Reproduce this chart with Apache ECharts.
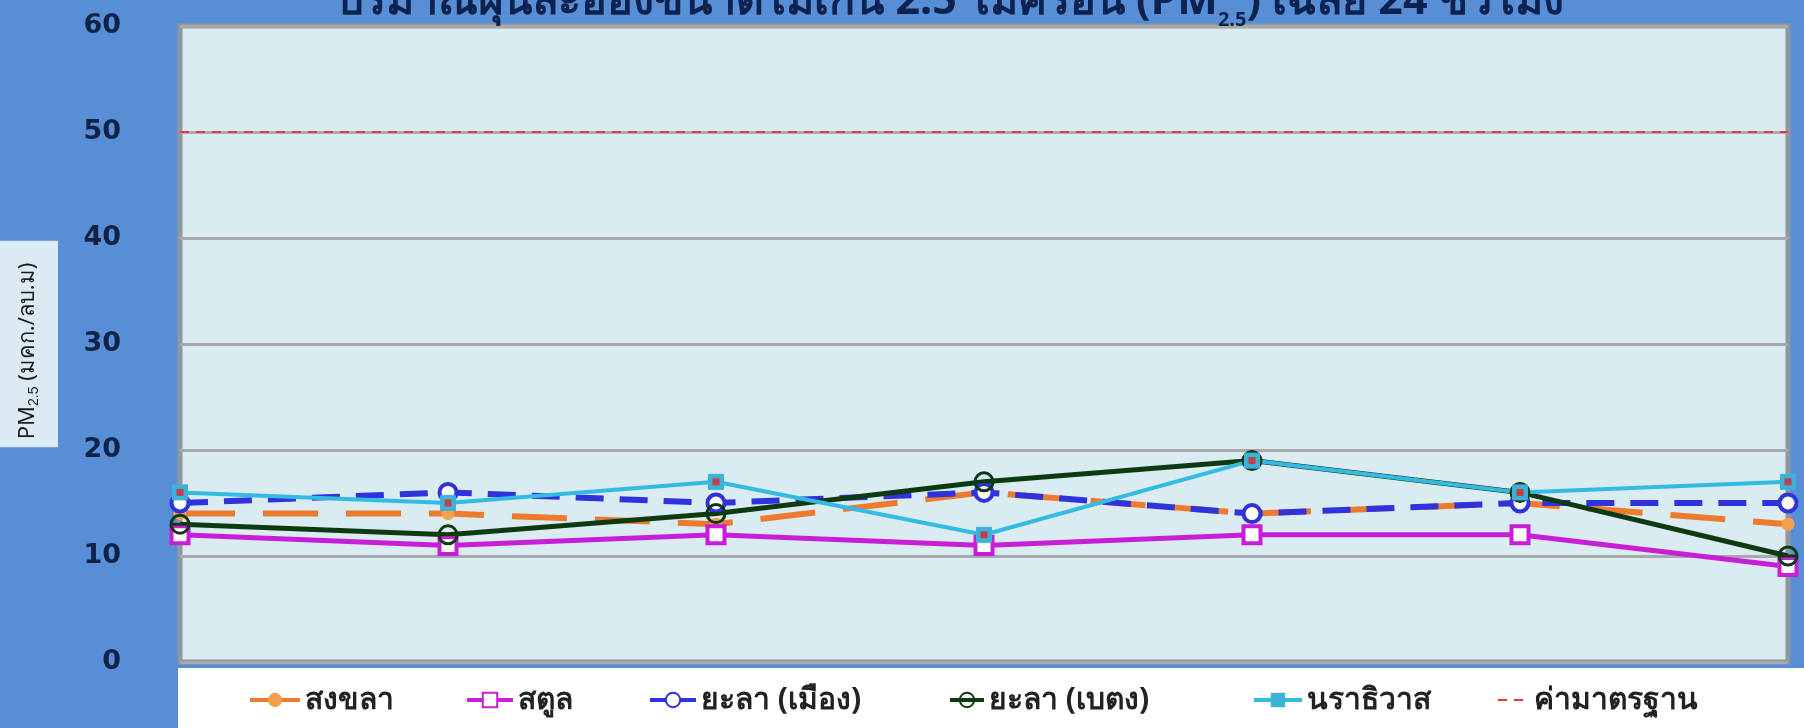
<!DOCTYPE html>
<html><head><meta charset="utf-8">
<script src="https://cdn.jsdelivr.net/npm/echarts@6/dist/echarts.min.js"></script>
<style>html,body{margin:0;padding:0;background:#578ED6}#c{width:1804px;height:728px}</style>
</head><body><div id="c"></div>
<script>
const categories = ['1','2','3','4','5','6','7'];
const songkhla   = [14, 14, 13, 16, 14, 15, 13];
const satun      = [12, 11, 12, 11, 12, 12, 9];
const yalaCity   = [15, 16, 15, 16, 14, 15, 15];
const yalaBetong = [13, 12, 14, 17, 19, 16, 10];
const narathiwat = [16, 15, 17, 12, 19, 16, 17];
const standard   = [50, 50, 50, 50, 50, 50, 50];
const yTicks = {min: 0, max: 60, interval: 10};
const names = ['สงขลา','สตูล','ยะลา (เมือง)','ยะลา (เบตง)','นราธิวาส','ค่ามาตรฐาน'];

const ringBar = 'path://M0,10A10,10 0 1,1 20,10A10,10 0 1,1 0,10Z M0,10L20,10';
const thaiFont = 'Tahoma, Noto Sans, DejaVu Sans, sans-serif';
const legendPos = [[248, 50], [465, 46], [648, 46], [948, 34], [1252, 48], [1497, 31]];
const legends = names.map((n, i) => ({
  data: [i === 5 ? {name: n, itemStyle: {opacity: 0}} : {name: n, lineStyle: {type: 'solid', width: 4}}],
  left: legendPos[i][0], top: 685, itemWidth: legendPos[i][1], itemHeight: 18, padding: 0,
  textStyle: {fontSize: 30, fontWeight: 'bold', color: '#222222', fontFamily: thaiFont}
}));

const chart = echarts.init(document.getElementById('c'), null, {renderer:'canvas'});
chart.setOption({
  backgroundColor: '#578ED6',
  animation: false,
  title: {
    text: '{t|ปริมาณฝุ่นละอองขนาดไม่เกิน 2.5 ไมครอน (PM}{s|2.5}{t|) เฉลี่ย 24 ชั่วโมง}',
    left: 950, top: -26, textAlign: 'center', padding: 0,
    textStyle: {
      rich: {
        t: {fontSize: 43, fontWeight: 'bold', color: '#0E2250', fontFamily: thaiFont},
        s: {fontSize: 20, fontWeight: 'bold', color: '#0E2250', verticalAlign: 'bottom', padding: [36,0,0,0], fontFamily: thaiFont}
      }
    }
  },
  graphic: [
    {type: 'rect', left: 178, top: 668, shape: {width: 1626, height: 60}, style: {fill: '#FFFFFF'}, z: 0}
  ],
  grid: {left: 180, right: 16, top: 26, bottom: 66, outerBoundsMode: 'none', show: true, backgroundColor: '#DBEBF2', borderColor: '#8F989F', borderWidth: 5},
  legend: legends,
  xAxis: {type: 'category', data: categories, boundaryGap: false, axisLine: {show: false}, axisTick: {show: false}, axisLabel: {show: false}, splitLine: {show: false}},
  yAxis: {
    type: 'value', min: yTicks.min, max: yTicks.max, interval: yTicks.interval,
    axisLine: {show: false}, axisTick: {show: false},
    axisLabel: {margin: 59, fontSize: 27, fontWeight: 'bold', color: '#0F2347', fontFamily: 'DejaVu Sans, Verdana, sans-serif'},
    splitLine: {lineStyle: {color: '#A6AAAD', width: 3}},
    name: '{a|PM}{s|2.5}{a| (มคก./ลบ.ม)}', nameLocation: 'middle', nameGap: 122, nameRotate: 90,
    nameTextStyle: {
      backgroundColor: '#DCEAF3', padding: [17, 22, 17, 8],
      rich: {
        a: {fontSize: 22, color: '#1A1A1A', fontFamily: thaiFont},
        s: {fontSize: 14, color: '#1A1A1A', verticalAlign: 'bottom', padding: [12,0,0,0]}
      }
    }
  },
  series: [
    {name: names[0], type: 'line', data: songkhla, symbol: 'circle', symbolSize: 13,
     lineStyle: {color: '#EE7A2E', width: 6, type: [55, 28]}, itemStyle: {color: '#F5A14C', borderColor: '#F5A14C', borderWidth: 0}},
    {name: names[1], type: 'line', data: satun, symbol: 'rect', symbolSize: 17,
     lineStyle: {color: '#C81ED8', width: 5}, itemStyle: {color: '#FFFFFF', borderColor: '#C81ED8', borderWidth: 4}},
    {name: names[2], type: 'line', data: yalaCity, symbol: 'circle', symbolSize: 17,
     lineStyle: {color: '#2E33DD', width: 6, type: [28, 16]}, itemStyle: {color: '#FFFFFF', borderColor: '#2E33DD', borderWidth: 4}},
    {name: names[3], type: 'line', data: yalaBetong, symbol: ringBar, symbolSize: 18,
     lineStyle: {color: '#0E3A12', width: 5}, itemStyle: {color: 'rgba(0,0,0,0)', borderColor: '#0E3A12', borderWidth: 3}},
    {name: names[4], type: 'line', data: narathiwat, symbol: 'rect', symbolSize: 15,
     lineStyle: {color: '#32BCE3', width: 4}, itemStyle: {color: '#3BB2D8', borderColor: '#3BB2D8'}},
    {name: 'nara-center', type: 'scatter', data: narathiwat, symbol: 'rect', symbolSize: 7, itemStyle: {color: '#E3232C'}, z: 5, silent: true},
    {name: names[5], type: 'line', data: standard, symbol: 'none',
     lineStyle: {color: '#F0343A', width: 2, type: [9, 7]}, itemStyle: {color: '#F0343A'}}
  ]
});
</script></body></html>
